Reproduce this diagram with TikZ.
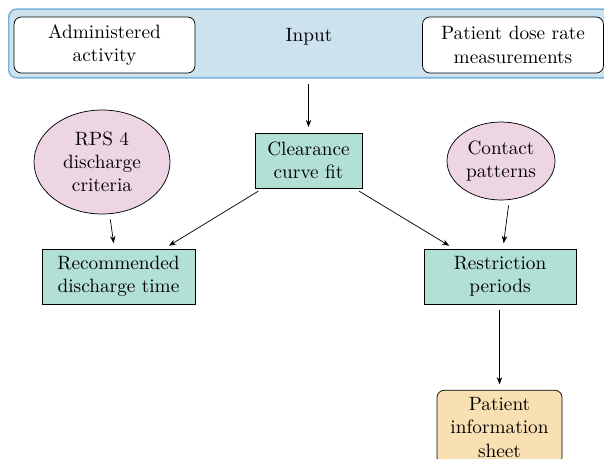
\documentclass[tikz,border=0pt]{standalone}
\usepackage{fontspec}
\usetikzlibrary{shapes.geometric,arrows.meta}
\definecolor{inbg}{RGB}{204,227,239}
\definecolor{inborder}{RGB}{120,178,216}
\definecolor{teal}{RGB}{179,224,212}
\definecolor{pinkfill}{RGB}{238,213,228}
\definecolor{orangefill}{RGB}{248,224,178}
\tikzset{
  inbox/.style={draw, rounded corners=4pt, fill=white, align=center, minimum width=99.5pt, minimum height=30.8pt, inner sep=1pt},
  procbox/.style={draw, fill=teal, align=center, minimum height=30.3pt, inner sep=1pt},
  critell/.style={draw, ellipse, fill=pinkfill, align=center, inner sep=0pt},
  outbox/.style={draw, rounded corners=4pt, fill=orangefill, align=center, inner sep=1pt},
  conn/.style={-{Stealth[length=4pt,width=3pt]}, shorten <=3pt, shorten >=3pt},
}
\begin{document}
\begin{tikzpicture}[x=0.55pt,y=-0.55pt, font=\fontsize{10.6pt}{12.8pt}\selectfont]
\useasboundingbox (0,0) rectangle (604,458);
\node[draw=inborder, fill=inbg, rounded corners=4.5pt, line width=0.8pt, minimum width=336pt, minimum height=37.9pt, inner sep=0pt] (input) at (8,43.5) [anchor=west] {};
\node (inputlabel) at (309,37) {Input};
\node[inbox] (admin) at (104.5,45) {Administered\\activity};
\node[inbox] (dose) at (513,45) {Patient dose rate\\measurements};
\node[procbox, minimum width=58.9pt] (clear) at (308.5,160.5) {Clearance\\curve fit};
\node[critell, minimum width=74.8pt, minimum height=57.2pt] (rps) at (102,162) {RPS 4\\discharge\\criteria};
\node[critell, minimum width=59.4pt, minimum height=42.9pt] (contact) at (501,161) {Contact\\patterns};
\node[procbox, minimum width=84pt] (rec) at (118.5,276.5) {Recommended\\discharge time};
\node[procbox, minimum width=83.6pt] (restr) at (500,276.5) {Restriction\\periods};
\node[outbox, minimum width=68.75pt, minimum height=41pt] (sheet) at (499.5,427.5) {Patient\\information\\sheet};
\draw[conn] (input.south -| clear.north) -- (clear.north);
\draw[conn] (rps) -- (rec);
\draw[conn] (clear) -- (rec);
\draw[conn] (clear) -- (restr);
\draw[conn] (contact.-78) -- (restr.84);
\draw[conn] (restr.south -| sheet.north) -- (sheet.north);
\end{tikzpicture}
\end{document}
